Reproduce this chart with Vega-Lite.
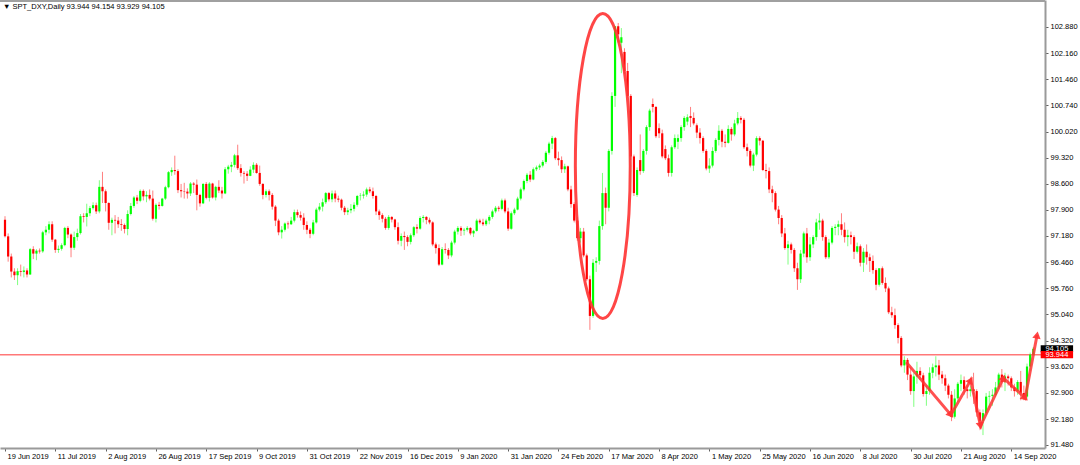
{
"$schema":"https://vega.github.io/schema/vega-lite/v6.json",
"width":1045,"height":448,"padding":{"left":0,"top":0,"right":35,"bottom":17},"autosize":{"type":"none"},
"background":"white",
"title":{"text":"▼ SPT_DXY,Daily  93.944 94.154 93.929 94.105","anchor":"start","frame":"group","orient":"top","offset":-11,"dx":3,"fontSize":7.5,"fontWeight":"normal","color":"#000000","font":"Liberation Sans"},
"config":{"view":{"stroke":null},"axis":{"grid":false,"labelFont":"Liberation Sans","labelFontSize":7.5,"labelColor":"#000000","tickColor":"#606060","tickSize":3,"domainColor":"#9a9a9a","domainWidth":2,"title":null,"labelOverlap":false,"labelBound":false,"labelFlush":false}},
"datasets":{
"candles":[
{"n":0,"o":97.62,"h":97.72,"l":97.14,"c":97.17},{"n":1,"o":97.17,"h":97.25,"l":96.48,"c":96.62},{"n":2,"o":96.62,"h":96.7,"l":96.05,"c":96.21},{"n":3,"o":96.21,"h":96.3,"l":95.98,"c":96.11},{"n":4,"o":96.11,"h":96.3,"l":95.84,"c":96.22},{"n":5,"o":96.22,"h":96.4,"l":96.08,"c":96.2},{"n":6,"o":96.2,"h":96.35,"l":96.05,"c":96.24},{"n":7,"o":96.24,"h":96.3,"l":96.05,"c":96.13},{"n":8,"o":96.13,"h":96.85,"l":96.12,"c":96.82},{"n":9,"o":96.82,"h":96.9,"l":96.55,"c":96.7},
{"n":10,"o":96.7,"h":96.82,"l":96.52,"c":96.78},{"n":11,"o":96.78,"h":96.84,"l":96.7,"c":96.76},{"n":12,"o":96.76,"h":97.32,"l":96.72,"c":97.28},{"n":13,"o":97.28,"h":97.45,"l":97.2,"c":97.35},{"n":14,"o":97.35,"h":97.58,"l":97.25,"c":97.5},{"n":15,"o":97.5,"h":97.58,"l":97.02,"c":97.08},{"n":16,"o":97.08,"h":97.1,"l":96.72,"c":96.8},{"n":17,"o":96.8,"h":96.92,"l":96.72,"c":96.83},{"n":18,"o":96.83,"h":96.98,"l":96.78,"c":96.93},{"n":19,"o":96.93,"h":97.43,"l":96.9,"c":97.4},
{"n":20,"o":97.4,"h":97.45,"l":97.12,"c":97.22},{"n":21,"o":97.22,"h":97.25,"l":96.6,"c":96.86},{"n":22,"o":96.86,"h":97.3,"l":96.8,"c":97.15},{"n":23,"o":97.15,"h":97.38,"l":97.05,"c":97.26},{"n":24,"o":97.26,"h":97.78,"l":97.22,"c":97.72},{"n":25,"o":97.72,"h":97.8,"l":97.55,"c":97.7},{"n":26,"o":97.7,"h":98.06,"l":97.44,"c":97.8},{"n":27,"o":97.8,"h":98.0,"l":97.72,"c":97.94},{"n":28,"o":97.94,"h":98.1,"l":97.9,"c":98.02},{"n":29,"o":98.02,"h":98.09,"l":97.78,"c":97.85},
{"n":30,"o":97.85,"h":98.7,"l":97.8,"c":98.52},{"n":31,"o":98.52,"h":98.93,"l":98.08,"c":98.4},{"n":32,"o":98.4,"h":98.45,"l":97.85,"c":98.08},{"n":33,"o":98.08,"h":98.1,"l":97.35,"c":97.54},{"n":34,"o":97.54,"h":97.68,"l":97.2,"c":97.62},{"n":35,"o":97.62,"h":97.75,"l":97.25,"c":97.6},{"n":36,"o":97.6,"h":97.7,"l":97.4,"c":97.5},{"n":37,"o":97.5,"h":97.64,"l":97.32,"c":97.48},{"n":38,"o":97.48,"h":97.52,"l":97.25,"c":97.37},{"n":39,"o":97.37,"h":97.88,"l":97.2,"c":97.78},
{"n":40,"o":97.78,"h":98.08,"l":97.74,"c":98.0},{"n":41,"o":98.0,"h":98.27,"l":97.95,"c":98.23},{"n":42,"o":98.23,"h":98.3,"l":98.05,"c":98.14},{"n":43,"o":98.14,"h":98.45,"l":98.1,"c":98.41},{"n":44,"o":98.41,"h":98.45,"l":98.15,"c":98.26},{"n":45,"o":98.26,"h":98.4,"l":98.1,"c":98.3},{"n":46,"o":98.3,"h":98.45,"l":98.15,"c":98.2},{"n":47,"o":98.2,"h":98.42,"l":97.6,"c":97.65},{"n":48,"o":97.65,"h":98.07,"l":97.55,"c":98.03},{"n":49,"o":98.03,"h":98.11,"l":97.9,"c":98.0},
{"n":50,"o":98.0,"h":98.22,"l":97.98,"c":98.2},{"n":51,"o":98.2,"h":98.55,"l":98.16,"c":98.51},{"n":52,"o":98.51,"h":98.95,"l":98.48,"c":98.92},{"n":53,"o":98.92,"h":99.05,"l":98.82,"c":98.98},{"n":54,"o":98.98,"h":99.37,"l":98.85,"c":98.95},{"n":55,"o":98.95,"h":99.0,"l":98.35,"c":98.43},{"n":56,"o":98.43,"h":98.6,"l":98.23,"c":98.4},{"n":57,"o":98.4,"h":98.63,"l":98.2,"c":98.39},{"n":58,"o":98.39,"h":98.48,"l":98.2,"c":98.34},{"n":59,"o":98.34,"h":98.65,"l":98.27,"c":98.61},
{"n":60,"o":98.61,"h":98.65,"l":98.35,"c":98.58},{"n":61,"o":98.58,"h":98.72,"l":97.88,"c":98.3},{"n":62,"o":98.3,"h":98.33,"l":97.98,"c":98.07},{"n":63,"o":98.07,"h":98.62,"l":98.05,"c":98.6},{"n":64,"o":98.6,"h":98.65,"l":98.18,"c":98.22},{"n":65,"o":98.22,"h":98.65,"l":98.12,"c":98.61},{"n":66,"o":98.61,"h":98.63,"l":98.2,"c":98.23},{"n":67,"o":98.23,"h":98.55,"l":98.15,"c":98.52},{"n":68,"o":98.52,"h":98.7,"l":98.35,"c":98.42},{"n":69,"o":98.42,"h":98.52,"l":98.2,"c":98.34},
{"n":70,"o":98.34,"h":99.06,"l":98.32,"c":99.0},{"n":71,"o":99.0,"h":99.12,"l":98.88,"c":99.07},{"n":72,"o":99.07,"h":99.2,"l":98.92,"c":99.12},{"n":73,"o":99.12,"h":99.42,"l":99.05,"c":99.38},{"n":74,"o":99.38,"h":99.67,"l":98.98,"c":99.03},{"n":75,"o":99.03,"h":99.14,"l":98.8,"c":98.9},{"n":76,"o":98.9,"h":98.95,"l":98.61,"c":98.88},{"n":77,"o":98.88,"h":98.95,"l":98.68,"c":98.82},{"n":78,"o":98.82,"h":99.08,"l":98.81,"c":98.99},{"n":79,"o":98.99,"h":99.19,"l":98.9,"c":99.12},
{"n":80,"o":99.12,"h":99.17,"l":98.88,"c":98.9},{"n":81,"o":98.9,"h":99.1,"l":98.55,"c":98.6},{"n":82,"o":98.6,"h":98.62,"l":98.18,"c":98.3},{"n":83,"o":98.3,"h":98.45,"l":98.23,"c":98.4},{"n":84,"o":98.4,"h":98.45,"l":98.15,"c":98.3},{"n":85,"o":98.3,"h":98.35,"l":97.9,"c":97.98},{"n":86,"o":97.98,"h":98.02,"l":97.45,"c":97.6},{"n":87,"o":97.6,"h":97.65,"l":97.2,"c":97.28},{"n":88,"o":97.28,"h":97.45,"l":97.11,"c":97.35},{"n":89,"o":97.35,"h":97.55,"l":97.3,"c":97.52},
{"n":90,"o":97.52,"h":97.58,"l":97.38,"c":97.5},{"n":91,"o":97.5,"h":97.7,"l":97.48,"c":97.6},{"n":92,"o":97.6,"h":97.9,"l":97.55,"c":97.83},{"n":93,"o":97.83,"h":97.9,"l":97.68,"c":97.75},{"n":94,"o":97.75,"h":97.85,"l":97.6,"c":97.68},{"n":95,"o":97.68,"h":97.8,"l":97.35,"c":97.48},{"n":96,"o":97.48,"h":97.58,"l":97.23,"c":97.35},{"n":97,"o":97.35,"h":97.4,"l":97.12,"c":97.24},{"n":98,"o":97.24,"h":97.62,"l":97.2,"c":97.55},{"n":99,"o":97.55,"h":97.95,"l":97.52,"c":97.9},
{"n":100,"o":97.9,"h":98.08,"l":97.85,"c":97.98},{"n":101,"o":97.98,"h":98.2,"l":97.85,"c":98.1},{"n":102,"o":98.1,"h":98.38,"l":98.05,"c":98.35},{"n":103,"o":98.35,"h":98.38,"l":98.12,"c":98.18},{"n":104,"o":98.18,"h":98.42,"l":98.1,"c":98.34},{"n":105,"o":98.34,"h":98.42,"l":98.1,"c":98.2},{"n":106,"o":98.2,"h":98.28,"l":98.1,"c":98.17},{"n":107,"o":98.17,"h":98.2,"l":97.88,"c":97.95},{"n":108,"o":97.95,"h":98.0,"l":97.75,"c":97.83},{"n":109,"o":97.83,"h":97.95,"l":97.75,"c":97.88},
{"n":110,"o":97.88,"h":98.05,"l":97.8,"c":97.92},{"n":111,"o":97.92,"h":98.1,"l":97.85,"c":98.03},{"n":112,"o":98.03,"h":98.3,"l":97.98,"c":98.27},{"n":113,"o":98.27,"h":98.35,"l":98.15,"c":98.28},{"n":114,"o":98.28,"h":98.4,"l":98.2,"c":98.31},{"n":115,"o":98.31,"h":98.5,"l":98.25,"c":98.45},{"n":116,"o":98.45,"h":98.52,"l":98.35,"c":98.4},{"n":117,"o":98.4,"h":98.5,"l":98.2,"c":98.27},{"n":118,"o":98.27,"h":98.3,"l":97.75,"c":97.85},{"n":119,"o":97.85,"h":97.9,"l":97.62,"c":97.75},
{"n":120,"o":97.75,"h":97.8,"l":97.55,"c":97.65},{"n":121,"o":97.65,"h":97.7,"l":97.35,"c":97.4},{"n":122,"o":97.4,"h":97.75,"l":97.35,"c":97.7},{"n":123,"o":97.7,"h":97.72,"l":97.55,"c":97.63},{"n":124,"o":97.63,"h":97.65,"l":97.35,"c":97.42},{"n":125,"o":97.42,"h":97.55,"l":96.95,"c":97.05},{"n":126,"o":97.05,"h":97.25,"l":96.9,"c":97.18},{"n":127,"o":97.18,"h":97.3,"l":96.8,"c":97.15},{"n":128,"o":97.15,"h":97.2,"l":96.9,"c":97.02},{"n":129,"o":97.02,"h":97.25,"l":96.95,"c":97.2},
{"n":130,"o":97.2,"h":97.45,"l":97.15,"c":97.42},{"n":131,"o":97.42,"h":97.5,"l":97.25,"c":97.38},{"n":132,"o":97.38,"h":97.72,"l":97.35,"c":97.67},{"n":133,"o":97.67,"h":97.75,"l":97.55,"c":97.7},{"n":134,"o":97.7,"h":97.72,"l":97.5,"c":97.62},{"n":135,"o":97.62,"h":97.68,"l":97.5,"c":97.55},{"n":136,"o":97.55,"h":97.58,"l":96.9,"c":96.95},{"n":137,"o":96.95,"h":97.0,"l":96.7,"c":96.85},{"n":138,"o":96.85,"h":96.95,"l":96.36,"c":96.4},{"n":139,"o":96.4,"h":96.88,"l":96.38,"c":96.82},
{"n":140,"o":96.82,"h":96.98,"l":96.7,"c":96.8},{"n":141,"o":96.8,"h":96.85,"l":96.55,"c":96.65},{"n":142,"o":96.65,"h":97.05,"l":96.6,"c":97.0},{"n":143,"o":97.0,"h":97.35,"l":96.95,"c":97.3},{"n":144,"o":97.3,"h":97.45,"l":97.22,"c":97.4},{"n":145,"o":97.4,"h":97.45,"l":97.18,"c":97.33},{"n":146,"o":97.33,"h":97.4,"l":97.2,"c":97.35},{"n":147,"o":97.35,"h":97.45,"l":97.3,"c":97.4},{"n":148,"o":97.4,"h":97.42,"l":97.2,"c":97.25},{"n":149,"o":97.25,"h":97.35,"l":97.15,"c":97.32},
{"n":150,"o":97.32,"h":97.65,"l":97.3,"c":97.6},{"n":151,"o":97.6,"h":97.65,"l":97.5,"c":97.55},{"n":152,"o":97.55,"h":97.65,"l":97.45,"c":97.5},{"n":153,"o":97.5,"h":97.65,"l":97.45,"c":97.6},{"n":154,"o":97.6,"h":97.75,"l":97.5,"c":97.7},{"n":155,"o":97.7,"h":97.9,"l":97.65,"c":97.85},{"n":156,"o":97.85,"h":98.0,"l":97.8,"c":97.95},{"n":157,"o":97.95,"h":98.0,"l":97.85,"c":97.92},{"n":158,"o":97.92,"h":98.2,"l":97.88,"c":98.15},{"n":159,"o":98.15,"h":98.2,"l":97.8,"c":97.85},
{"n":160,"o":97.85,"h":97.95,"l":97.32,"c":97.38},{"n":161,"o":97.38,"h":97.85,"l":97.35,"c":97.8},{"n":162,"o":97.8,"h":97.95,"l":97.75,"c":97.9},{"n":163,"o":97.9,"h":98.25,"l":97.88,"c":98.2},{"n":164,"o":98.2,"h":98.5,"l":98.15,"c":98.45},{"n":165,"o":98.45,"h":98.72,"l":98.4,"c":98.68},{"n":166,"o":98.68,"h":98.9,"l":98.62,"c":98.85},{"n":167,"o":98.85,"h":98.95,"l":98.65,"c":98.72},{"n":168,"o":98.72,"h":99.05,"l":98.7,"c":99.0},{"n":169,"o":99.0,"h":99.1,"l":98.95,"c":99.05},
{"n":170,"o":99.05,"h":99.15,"l":98.98,"c":99.1},{"n":171,"o":99.1,"h":99.25,"l":99.05,"c":99.2},{"n":172,"o":99.2,"h":99.5,"l":99.15,"c":99.45},{"n":173,"o":99.45,"h":99.75,"l":99.4,"c":99.7},{"n":174,"o":99.7,"h":99.91,"l":99.55,"c":99.85},{"n":175,"o":99.85,"h":99.88,"l":99.25,"c":99.3},{"n":176,"o":99.3,"h":99.48,"l":99.1,"c":99.25},{"n":177,"o":99.25,"h":99.35,"l":98.9,"c":99.0},{"n":178,"o":99.0,"h":99.15,"l":98.9,"c":99.08},{"n":179,"o":99.08,"h":99.1,"l":98.4,"c":98.45},
{"n":180,"o":98.45,"h":98.55,"l":97.95,"c":98.05},{"n":181,"o":98.05,"h":98.1,"l":97.55,"c":97.6},{"n":182,"o":97.6,"h":97.7,"l":97.05,"c":97.12},{"n":183,"o":97.12,"h":97.4,"l":97.0,"c":97.3},{"n":184,"o":97.3,"h":97.4,"l":96.6,"c":96.65},{"n":185,"o":96.65,"h":96.7,"l":95.95,"c":96.0},{"n":186,"o":96.0,"h":96.1,"l":94.62,"c":95.0},{"n":187,"o":95.0,"h":96.55,"l":94.95,"c":96.45},{"n":188,"o":96.45,"h":96.6,"l":96.2,"c":96.5},{"n":189,"o":96.5,"h":97.6,"l":96.4,"c":97.45},
{"n":190,"o":97.45,"h":98.9,"l":97.35,"c":98.35},{"n":191,"o":98.35,"h":98.5,"l":97.5,"c":97.95},{"n":192,"o":97.95,"h":99.55,"l":97.85,"c":99.5},{"n":193,"o":99.5,"h":101.1,"l":99.4,"c":101.0},{"n":194,"o":101.0,"h":102.8,"l":100.7,"c":102.9},{"n":195,"o":102.9,"h":102.99,"l":102.45,"c":102.68},{"n":196,"o":102.45,"h":102.85,"l":101.62,"c":102.6},{"n":197,"o":102.2,"h":102.3,"l":101.6,"c":101.68},{"n":198,"o":101.68,"h":101.9,"l":100.95,"c":101.0},{"n":199,"o":101.0,"h":101.05,"l":99.25,"c":99.35},
{"n":200,"o":99.35,"h":99.4,"l":98.27,"c":98.35},{"n":201,"o":98.3,"h":99.05,"l":98.25,"c":98.98},{"n":202,"o":99.25,"h":99.95,"l":98.85,"c":98.95},{"n":203,"o":98.95,"h":99.55,"l":98.9,"c":99.5},{"n":204,"o":99.5,"h":100.2,"l":99.4,"c":100.15},{"n":205,"o":100.15,"h":100.65,"l":100.05,"c":100.6},{"n":206,"o":100.78,"h":100.93,"l":100.55,"c":100.7},{"n":207,"o":100.7,"h":100.72,"l":99.85,"c":99.9},{"n":208,"o":100.12,"h":100.25,"l":99.85,"c":99.98},{"n":209,"o":99.98,"h":100.08,"l":99.3,"c":99.35},
{"n":210,"o":99.55,"h":99.65,"l":99.25,"c":99.3},{"n":211,"o":99.3,"h":99.4,"l":98.8,"c":98.9},{"n":212,"o":98.9,"h":99.65,"l":98.8,"c":99.6},{"n":213,"o":99.6,"h":99.95,"l":99.55,"c":99.85},{"n":214,"o":99.75,"h":99.95,"l":99.55,"c":99.85},{"n":215,"o":99.85,"h":100.2,"l":99.75,"c":100.15},{"n":216,"o":100.15,"h":100.45,"l":100.05,"c":100.4},{"n":217,"o":100.3,"h":100.5,"l":100.2,"c":100.42},{"n":218,"o":100.45,"h":100.7,"l":100.15,"c":100.4},{"n":219,"o":100.4,"h":100.55,"l":100.2,"c":100.25},
{"n":220,"o":100.2,"h":100.25,"l":99.85,"c":100.0},{"n":221,"o":100.0,"h":100.12,"l":99.7,"c":99.85},{"n":222,"o":99.85,"h":99.9,"l":99.45,"c":99.5},{"n":223,"o":99.5,"h":99.55,"l":98.97,"c":99.02},{"n":224,"o":99.02,"h":99.3,"l":98.9,"c":99.1},{"n":225,"o":99.1,"h":99.6,"l":99.05,"c":99.5},{"n":226,"o":99.5,"h":99.85,"l":99.45,"c":99.8},{"n":227,"o":99.8,"h":100.2,"l":99.65,"c":100.05},{"n":228,"o":100.05,"h":100.1,"l":99.6,"c":99.75},{"n":229,"o":99.75,"h":99.95,"l":99.6,"c":99.72},
{"n":230,"o":99.72,"h":100.2,"l":99.7,"c":100.1},{"n":231,"o":100.1,"h":100.15,"l":99.78,"c":99.95},{"n":232,"o":99.95,"h":100.35,"l":99.9,"c":100.25},{"n":233,"o":100.25,"h":100.56,"l":100.2,"c":100.4},{"n":234,"o":100.4,"h":100.45,"l":100.25,"c":100.35},{"n":235,"o":100.35,"h":100.4,"l":99.55,"c":99.6},{"n":236,"o":99.6,"h":99.7,"l":99.35,"c":99.5},{"n":237,"o":99.5,"h":99.55,"l":99.05,"c":99.1},{"n":238,"o":99.1,"h":99.45,"l":98.95,"c":99.4},{"n":239,"o":99.4,"h":99.9,"l":99.35,"c":99.85},
{"n":240,"o":99.85,"h":99.9,"l":99.65,"c":99.78},{"n":241,"o":99.78,"h":99.8,"l":98.95,"c":98.98},{"n":242,"o":98.98,"h":99.15,"l":98.75,"c":98.95},{"n":243,"o":98.95,"h":99.05,"l":98.35,"c":98.45},{"n":244,"o":98.45,"h":98.55,"l":98.1,"c":98.35},{"n":245,"o":98.35,"h":98.4,"l":97.85,"c":97.9},{"n":246,"o":97.9,"h":98.0,"l":97.5,"c":97.67},{"n":247,"o":97.67,"h":97.75,"l":97.15,"c":97.25},{"n":248,"o":97.25,"h":97.4,"l":96.8,"c":96.85},{"n":249,"o":96.85,"h":97.05,"l":96.4,"c":96.95},
{"n":250,"o":96.95,"h":97.0,"l":96.7,"c":96.8},{"n":251,"o":96.8,"h":96.85,"l":96.2,"c":96.3},{"n":252,"o":96.3,"h":96.45,"l":95.71,"c":96.0},{"n":253,"o":96.0,"h":96.8,"l":95.9,"c":96.7},{"n":254,"o":96.7,"h":97.3,"l":96.6,"c":97.25},{"n":255,"o":97.25,"h":97.4,"l":96.45,"c":96.6},{"n":256,"o":96.6,"h":97.15,"l":96.5,"c":96.95},{"n":257,"o":96.95,"h":97.2,"l":96.85,"c":97.15},{"n":258,"o":97.15,"h":97.65,"l":97.05,"c":97.55},{"n":259,"o":97.55,"h":97.8,"l":97.35,"c":97.6},
{"n":260,"o":97.6,"h":97.65,"l":97.05,"c":97.15},{"n":261,"o":97.15,"h":97.2,"l":96.55,"c":96.6},{"n":262,"o":96.6,"h":97.1,"l":96.55,"c":97.0},{"n":263,"o":97.0,"h":97.45,"l":96.95,"c":97.4},{"n":264,"o":97.4,"h":97.5,"l":97.2,"c":97.43},{"n":265,"o":97.43,"h":97.6,"l":97.2,"c":97.5},{"n":266,"o":97.5,"h":97.8,"l":97.2,"c":97.35},{"n":267,"o":97.35,"h":97.55,"l":97.0,"c":97.15},{"n":268,"o":97.15,"h":97.35,"l":96.9,"c":97.2},{"n":269,"o":97.2,"h":97.3,"l":96.95,"c":97.15},
{"n":270,"o":97.15,"h":97.2,"l":96.55,"c":96.75},{"n":271,"o":96.75,"h":97.0,"l":96.7,"c":96.9},{"n":272,"o":96.9,"h":96.95,"l":96.35,"c":96.45},{"n":273,"o":96.45,"h":96.85,"l":96.2,"c":96.75},{"n":274,"o":96.75,"h":96.95,"l":96.4,"c":96.6},{"n":275,"o":96.6,"h":96.7,"l":96.2,"c":96.5},{"n":276,"o":96.5,"h":96.65,"l":96.15,"c":96.25},{"n":277,"o":96.25,"h":96.3,"l":95.7,"c":95.85},{"n":278,"o":95.85,"h":96.3,"l":95.8,"c":96.3},{"n":279,"o":96.3,"h":96.35,"l":95.85,"c":95.9},
{"n":280,"o":95.9,"h":96.05,"l":95.65,"c":95.75},{"n":281,"o":95.75,"h":95.8,"l":95.05,"c":95.1},{"n":282,"o":95.1,"h":95.25,"l":94.95,"c":95.02},{"n":283,"o":95.02,"h":95.2,"l":94.65,"c":94.75},{"n":284,"o":94.75,"h":94.8,"l":94.25,"c":94.4},{"n":285,"o":94.4,"h":94.45,"l":93.6,"c":93.65},{"n":286,"o":93.65,"h":93.9,"l":93.45,"c":93.8},{"n":287,"o":93.8,"h":93.85,"l":93.25,"c":93.4},{"n":288,"o":93.4,"h":93.6,"l":92.85,"c":92.95},{"n":289,"o":92.95,"h":93.45,"l":92.52,"c":93.35},
{"n":290,"o":93.35,"h":93.75,"l":93.15,"c":93.5},{"n":291,"o":93.5,"h":93.6,"l":93.25,"c":93.38},{"n":292,"o":93.38,"h":93.45,"l":92.8,"c":92.87},{"n":293,"o":92.87,"h":93.1,"l":92.55,"c":92.95},{"n":294,"o":92.95,"h":93.6,"l":92.85,"c":93.45},{"n":295,"o":93.45,"h":93.7,"l":93.3,"c":93.6},{"n":296,"o":93.6,"h":93.9,"l":93.35,"c":93.65},{"n":297,"o":93.65,"h":93.8,"l":93.25,"c":93.4},{"n":298,"o":93.4,"h":93.5,"l":93.15,"c":93.3},{"n":299,"o":93.3,"h":93.4,"l":92.95,"c":93.1},
{"n":300,"o":93.1,"h":93.15,"l":92.75,"c":92.85},{"n":301,"o":92.85,"h":92.95,"l":92.13,"c":92.25},{"n":302,"o":92.25,"h":93.0,"l":92.2,"c":92.75},{"n":303,"o":92.75,"h":93.2,"l":92.65,"c":93.15},{"n":304,"o":93.15,"h":93.4,"l":92.95,"c":93.25},{"n":305,"o":93.25,"h":93.35,"l":92.85,"c":93.0},{"n":306,"o":93.0,"h":93.1,"l":92.75,"c":92.95},{"n":307,"o":92.95,"h":93.1,"l":92.8,"c":93.0},{"n":308,"o":93.0,"h":93.45,"l":92.6,"c":92.95},{"n":309,"o":92.95,"h":93.0,"l":92.25,"c":92.37},
{"n":310,"o":92.37,"h":92.45,"l":92.05,"c":92.14},{"n":311,"o":92.14,"h":92.45,"l":91.75,"c":92.35},{"n":312,"o":92.35,"h":92.9,"l":92.3,"c":92.8},{"n":313,"o":92.8,"h":92.95,"l":92.5,"c":92.82},{"n":314,"o":92.82,"h":93.0,"l":92.55,"c":92.85},{"n":315,"o":92.85,"h":93.2,"l":92.8,"c":93.05},{"n":316,"o":93.05,"h":93.45,"l":93.0,"c":93.4},{"n":317,"o":93.4,"h":93.55,"l":93.05,"c":93.2},{"n":318,"o":93.2,"h":93.45,"l":92.95,"c":93.35},{"n":319,"o":93.35,"h":93.4,"l":93.1,"c":93.3},
{"n":320,"o":93.3,"h":93.35,"l":92.95,"c":93.05},{"n":321,"o":93.05,"h":93.15,"l":92.8,"c":92.95},{"n":322,"o":92.95,"h":93.25,"l":92.85,"c":93.2},{"n":323,"o":93.2,"h":93.5,"l":92.7,"c":92.9},{"n":324,"o":92.9,"h":93.1,"l":92.7,"c":92.8},{"n":325,"o":92.8,"h":93.7,"l":92.75,"c":93.62},{"n":326,"o":93.62,"h":94.0,"l":93.5,"c":93.944},{"n":327,"o":93.944,"h":94.154,"l":93.929,"c":94.105}
],
"arrow":[{"k":1,"n":286.6,"p":93.74},{"k":2,"n":300.8,"p":92.3},{"k":3,"n":307.1,"p":93.25},{"k":4,"n":310.2,"p":92.0},{"k":5,"n":317.5,"p":93.31},{"k":6,"n":324.4,"p":92.76},{"k":7,"n":328.2,"p":94.48}],
"heads":[{"n":300.8,"p":92.3,"dir":140},{"n":307.1,"p":93.25,"dir":30},{"n":310.2,"p":92.0,"dir":168},{"n":317.5,"p":93.31,"dir":26},{"n":324.4,"p":92.76,"dir":132},{"n":328.2,"p":94.48,"dir":10}],
"circle":[{"n":190.1,"p":99.09}],
"levels":[{"p":94.105,"kind":"bid"},{"p":93.944,"kind":"line"}]
},
"layer":[
{"data":{"name":"levels"},"transform":[{"filter":"datum.kind=='line'"}],"mark":{"type":"rule","color":"#ff7878","strokeWidth":1.5},
 "encoding":{"y":{"field":"p","type":"quantitative","title":null,"scale":{"domain":[91.398,103.616],"nice":false,"zero":false},
  "axis":{"orient":"right","values":[91.48,92.18,92.9,93.62,94.32,95.04,95.76,96.46,97.18,97.9,98.6,99.32,100.02,100.74,101.46,102.16,102.88],"tickCount":100,"format":".3f","labelPadding":2,"labelBaseline":"middle"}}}},
{"data":{"name":"candles"},"mark":{"type":"rule","strokeWidth":1,"opacity":0.5},
 "encoding":{
  "x":{"field":"n","type":"quantitative","title":null,"scale":{"domain":[0,329.13],"nice":false,"zero":false},
   "axis":{"orient":"bottom","values":[0,16,32,48,64,80,96,112,128,144,160,176,192,208,224,240,256,272,288,304,320],"tickCount":100,
   "labelExpr":"['19 Jun 2019','11 Jul 2019','2 Aug 2019','26 Aug 2019','17 Sep 2019','9 Oct 2019','31 Oct 2019','22 Nov 2019','16 Dec 2019','9 Jan 2020','31 Jan 2020','24 Feb 2020','17 Mar 2020','8 Apr 2020','1 May 2020','25 May 2020','16 Jun 2020','8 Jul 2020','30 Jul 2020','21 Aug 2020','14 Sep 2020'][round(datum.value/16)]",
   "labelAlign":"left","labelOffset":2,"labelPadding":1}},
  "y":{"field":"l","type":"quantitative","title":null,"scale":{"domain":[91.398,103.616],"nice":false,"zero":false}},
  "y2":{"field":"h"},
  "color":{"condition":{"test":"datum.c >= datum.o","value":"#00ff00"},"value":"#ff0000"}}},
{"data":{"name":"candles"},"mark":{"type":"bar","size":2.2},
 "encoding":{
  "x":{"field":"n","type":"quantitative","title":null,"scale":{"domain":[0,329.13],"nice":false,"zero":false}},
  "y":{"field":"o","type":"quantitative","title":null,"scale":{"domain":[91.398,103.616],"nice":false,"zero":false}},
  "y2":{"field":"c"},
  "color":{"condition":{"test":"datum.c >= datum.o","value":"#00ff00"},"value":"#ff0000"}}},
{"data":{"name":"circle"},"mark":{"type":"point","shape":"M0,-1C0.0994,-1,0.18,-0.5523,0.18,0C0.18,0.5523,0.0994,1,0,1C-0.0994,1,-0.18,0.5523,-0.18,0C-0.18,-0.5523,-0.0994,-1,0,-1Z","size":93025,"filled":false,"color":"#ff3333","strokeWidth":3,"opacity":0.9},
 "encoding":{
  "x":{"field":"n","type":"quantitative","title":null,"scale":{"domain":[0,329.13],"nice":false,"zero":false}},
  "y":{"field":"p","type":"quantitative","title":null,"scale":{"domain":[91.398,103.616],"nice":false,"zero":false}}}},
{"data":{"name":"arrow"},"mark":{"type":"line","color":"#ff3333","strokeWidth":3,"opacity":0.85},
 "encoding":{
  "x":{"field":"n","type":"quantitative","title":null,"scale":{"domain":[0,329.13],"nice":false,"zero":false}},
  "y":{"field":"p","type":"quantitative","title":null,"scale":{"domain":[91.398,103.616],"nice":false,"zero":false}},
  "order":{"field":"k"}}},
{"data":{"name":"heads"},"mark":{"type":"point","shape":"triangle-up","filled":true,"color":"#ff3333","size":70,"opacity":0.9},
 "encoding":{
  "x":{"field":"n","type":"quantitative","title":null,"scale":{"domain":[0,329.13],"nice":false,"zero":false}},
  "y":{"field":"p","type":"quantitative","title":null,"scale":{"domain":[91.398,103.616],"nice":false,"zero":false}},
  "angle":{"field":"dir","type":"quantitative","scale":null}}},
{"data":{"name":"levels"},"mark":{"type":"point","shape":"M-1,-0.22H1V0.22H-1Z","size":1050,"filled":true,"opacity":1},
 "encoding":{
  "x":{"datum":334.5,"type":"quantitative","scale":{"domain":[0,329.13],"nice":false,"zero":false}},
  "y":{"field":"p","type":"quantitative","title":null,"scale":{"domain":[91.398,103.616],"nice":false,"zero":false}},
  "color":{"condition":{"test":"datum.kind=='bid'","value":"#000000"},"value":"#ff0000"}}},
{"data":{"name":"levels"},"mark":{"type":"text","color":"#ffffff","fontSize":7.5,"font":"Liberation Sans","align":"center","baseline":"middle"},
 "encoding":{
  "x":{"datum":334.5,"type":"quantitative","scale":{"domain":[0,329.13],"nice":false,"zero":false}},
  "y":{"field":"p","type":"quantitative","title":null,"scale":{"domain":[91.398,103.616],"nice":false,"zero":false}},
  "text":{"field":"p","type":"quantitative","format":".3f"}}},
{"data":{"values":[{"p":103.59}]},"mark":{"type":"rule","color":"#a0a0a0","strokeWidth":2},
 "encoding":{"y":{"field":"p","type":"quantitative","title":null,"scale":{"domain":[91.398,103.616],"nice":false,"zero":false}}}}
]
}
